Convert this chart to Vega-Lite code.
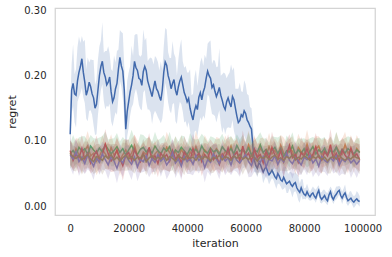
{
"$schema": "https://vega.github.io/schema/vega-lite/v6.json",
"width": 320, "height": 207,
"autosize": "none",
"padding": {"left": 55, "top": 8, "right": 17, "bottom": 42},
"background": "white",
"config": {
  "font": "DejaVu Sans",
  "view": {"stroke": "#d4d4d4", "strokeWidth": 1.25},
  "axis": {"grid": false, "domain": false, "ticks": false, "labelFontSize": 10, "labelColor": "#262626", "titleFontSize": 11, "titleColor": "#262626", "titleFontWeight": "normal", "labelFont": "DejaVu Sans", "titleFont": "DejaVu Sans"},
  "axisX": {"labelPadding": 8, "titlePadding": 4},
  "axisY": {"labelPadding": 9, "titlePadding": 6}
},
"datasets": {
"blue": [
{"i":0,"m":0.110,"l":0.070,"h":0.155},{"i":500,"m":0.178,"l":0.142,"h":0.218},
{"i":1000,"m":0.188,"l":0.153,"h":0.248},{"i":1500,"m":0.172,"l":0.128,"h":0.202},
{"i":2000,"m":0.170,"l":0.120,"h":0.210},{"i":2500,"m":0.192,"l":0.160,"h":0.244},
{"i":3000,"m":0.205,"l":0.167,"h":0.260},{"i":3500,"m":0.214,"l":0.173,"h":0.250},
{"i":4000,"m":0.226,"l":0.181,"h":0.261},{"i":4500,"m":0.205,"l":0.167,"h":0.252},
{"i":5000,"m":0.190,"l":0.158,"h":0.255},{"i":5500,"m":0.170,"l":0.134,"h":0.210},
{"i":6000,"m":0.178,"l":0.130,"h":0.228},{"i":6500,"m":0.190,"l":0.146,"h":0.220},
{"i":7000,"m":0.183,"l":0.147,"h":0.225},{"i":7500,"m":0.172,"l":0.140,"h":0.224},
{"i":8000,"m":0.166,"l":0.124,"h":0.224},{"i":8500,"m":0.150,"l":0.109,"h":0.186},
{"i":9000,"m":0.156,"l":0.110,"h":0.194},{"i":9500,"m":0.178,"l":0.140,"h":0.225},
{"i":10000,"m":0.200,"l":0.160,"h":0.245},{"i":10500,"m":0.214,"l":0.178,"h":0.254},
{"i":11000,"m":0.222,"l":0.187,"h":0.282},{"i":11500,"m":0.205,"l":0.161,"h":0.235},
{"i":12000,"m":0.198,"l":0.148,"h":0.238},{"i":12500,"m":0.186,"l":0.154,"h":0.238},
{"i":13000,"m":0.190,"l":0.152,"h":0.245},{"i":13500,"m":0.198,"l":0.157,"h":0.234},
{"i":14000,"m":0.175,"l":0.130,"h":0.210},{"i":14500,"m":0.160,"l":0.122,"h":0.207},
{"i":15000,"m":0.166,"l":0.134,"h":0.231},{"i":15500,"m":0.180,"l":0.144,"h":0.220},
{"i":16000,"m":0.188,"l":0.140,"h":0.238},{"i":16500,"m":0.210,"l":0.166,"h":0.240},
{"i":17000,"m":0.228,"l":0.192,"h":0.270},{"i":17500,"m":0.215,"l":0.183,"h":0.267},
{"i":18000,"m":0.207,"l":0.165,"h":0.265},{"i":18500,"m":0.178,"l":0.137,"h":0.214},
{"i":19000,"m":0.118,"l":0.072,"h":0.156},{"i":19500,"m":0.145,"l":0.107,"h":0.192},
{"i":20000,"m":0.160,"l":0.120,"h":0.205},{"i":20500,"m":0.175,"l":0.139,"h":0.215},
{"i":21000,"m":0.186,"l":0.151,"h":0.246},{"i":21500,"m":0.200,"l":0.156,"h":0.230},
{"i":22000,"m":0.222,"l":0.172,"h":0.262},{"i":22500,"m":0.212,"l":0.180,"h":0.264},
{"i":23000,"m":0.208,"l":0.170,"h":0.263},{"i":23500,"m":0.196,"l":0.155,"h":0.232},
{"i":24000,"m":0.194,"l":0.149,"h":0.229},{"i":24500,"m":0.185,"l":0.147,"h":0.232},
{"i":25000,"m":0.206,"l":0.174,"h":0.271},{"i":25500,"m":0.214,"l":0.178,"h":0.254},
{"i":26000,"m":0.208,"l":0.160,"h":0.258},{"i":26500,"m":0.192,"l":0.148,"h":0.222},
{"i":27000,"m":0.184,"l":0.148,"h":0.226},{"i":27500,"m":0.176,"l":0.144,"h":0.228},
{"i":28000,"m":0.168,"l":0.126,"h":0.226},{"i":28500,"m":0.181,"l":0.140,"h":0.217},
{"i":29000,"m":0.192,"l":0.146,"h":0.230},{"i":29500,"m":0.180,"l":0.142,"h":0.227},
{"i":30000,"m":0.176,"l":0.136,"h":0.221},{"i":30500,"m":0.168,"l":0.132,"h":0.208},
{"i":31000,"m":0.162,"l":0.127,"h":0.222},{"i":31500,"m":0.178,"l":0.134,"h":0.208},
{"i":32000,"m":0.205,"l":0.155,"h":0.245},{"i":32500,"m":0.221,"l":0.189,"h":0.273},
{"i":33000,"m":0.216,"l":0.178,"h":0.271},{"i":33500,"m":0.200,"l":0.159,"h":0.236},
{"i":34000,"m":0.192,"l":0.147,"h":0.227},{"i":34500,"m":0.180,"l":0.142,"h":0.227},
{"i":35000,"m":0.188,"l":0.156,"h":0.253},{"i":35500,"m":0.194,"l":0.158,"h":0.234},
{"i":36000,"m":0.178,"l":0.130,"h":0.228},{"i":36500,"m":0.170,"l":0.126,"h":0.200},
{"i":37000,"m":0.183,"l":0.147,"h":0.225},{"i":37500,"m":0.192,"l":0.160,"h":0.244},
{"i":38000,"m":0.198,"l":0.156,"h":0.256},{"i":38500,"m":0.186,"l":0.145,"h":0.222},
{"i":39000,"m":0.174,"l":0.128,"h":0.212},{"i":39500,"m":0.168,"l":0.130,"h":0.215},
{"i":40000,"m":0.160,"l":0.120,"h":0.205},{"i":40500,"m":0.165,"l":0.129,"h":0.205},
{"i":41000,"m":0.150,"l":0.115,"h":0.210},{"i":41500,"m":0.140,"l":0.096,"h":0.170},
{"i":42000,"m":0.132,"l":0.082,"h":0.172},{"i":42500,"m":0.146,"l":0.114,"h":0.198},
{"i":43000,"m":0.154,"l":0.116,"h":0.209},{"i":43500,"m":0.148,"l":0.107,"h":0.184},
{"i":44000,"m":0.167,"l":0.122,"h":0.202},{"i":44500,"m":0.174,"l":0.136,"h":0.221},
{"i":45000,"m":0.163,"l":0.131,"h":0.228},{"i":45500,"m":0.175,"l":0.139,"h":0.215},
{"i":46000,"m":0.182,"l":0.134,"h":0.232},{"i":46500,"m":0.196,"l":0.152,"h":0.226},
{"i":47000,"m":0.207,"l":0.171,"h":0.249},{"i":47500,"m":0.200,"l":0.168,"h":0.252},
{"i":48000,"m":0.196,"l":0.154,"h":0.254},{"i":48500,"m":0.182,"l":0.141,"h":0.218},
{"i":49000,"m":0.186,"l":0.140,"h":0.224},{"i":49500,"m":0.176,"l":0.138,"h":0.223},
{"i":50000,"m":0.168,"l":0.128,"h":0.213},{"i":50500,"m":0.174,"l":0.138,"h":0.214},
{"i":51000,"m":0.182,"l":0.147,"h":0.242},{"i":51500,"m":0.170,"l":0.126,"h":0.200},
{"i":52000,"m":0.162,"l":0.112,"h":0.202},{"i":52500,"m":0.153,"l":0.121,"h":0.205},
{"i":53000,"m":0.148,"l":0.110,"h":0.203},{"i":53500,"m":0.160,"l":0.119,"h":0.196},
{"i":54000,"m":0.166,"l":0.121,"h":0.201},{"i":54500,"m":0.158,"l":0.120,"h":0.205},
{"i":55000,"m":0.152,"l":0.120,"h":0.217},{"i":55500,"m":0.168,"l":0.132,"h":0.208},
{"i":56000,"m":0.163,"l":0.115,"h":0.213},{"i":56500,"m":0.150,"l":0.106,"h":0.180},
{"i":57000,"m":0.138,"l":0.102,"h":0.180},{"i":57500,"m":0.128,"l":0.096,"h":0.180},
{"i":58000,"m":0.131,"l":0.089,"h":0.189},{"i":58500,"m":0.140,"l":0.099,"h":0.176},
{"i":59000,"m":0.137,"l":0.091,"h":0.175},{"i":59500,"m":0.146,"l":0.108,"h":0.193},
{"i":60000,"m":0.142,"l":0.102,"h":0.187},{"i":60500,"m":0.132,"l":0.096,"h":0.172},
{"i":61000,"m":0.128,"l":0.098,"h":0.170},{"i":61500,"m":0.122,"l":0.078,"h":0.152},
{"i":62000,"m":0.118,"l":0.085,"h":0.150},{"i":62500,"m":0.090,"l":0.062,"h":0.125},
{"i":63000,"m":0.070,"l":0.052,"h":0.088},{"i":63500,"m":0.062,"l":0.050,"h":0.081},
{"i":64000,"m":0.058,"l":0.044,"h":0.083},{"i":64500,"m":0.066,"l":0.053,"h":0.082},
{"i":65000,"m":0.064,"l":0.053,"h":0.078},{"i":65500,"m":0.058,"l":0.048,"h":0.079},
{"i":66000,"m":0.052,"l":0.035,"h":0.072},{"i":66500,"m":0.057,"l":0.041,"h":0.070},
{"i":67000,"m":0.060,"l":0.047,"h":0.076},{"i":67500,"m":0.053,"l":0.041,"h":0.072},
{"i":68000,"m":0.048,"l":0.033,"h":0.071},{"i":68500,"m":0.051,"l":0.038,"h":0.067},
{"i":69000,"m":0.055,"l":0.043,"h":0.068},{"i":69500,"m":0.050,"l":0.040,"h":0.071},
{"i":70000,"m":0.045,"l":0.033,"h":0.060},{"i":70500,"m":0.042,"l":0.026,"h":0.055},
{"i":71000,"m":0.050,"l":0.034,"h":0.072},{"i":71500,"m":0.046,"l":0.034,"h":0.065},
{"i":72000,"m":0.040,"l":0.030,"h":0.052},{"i":72500,"m":0.038,"l":0.025,"h":0.054},
{"i":73000,"m":0.044,"l":0.026,"h":0.062},{"i":73500,"m":0.039,"l":0.029,"h":0.060},
{"i":74000,"m":0.034,"l":0.020,"h":0.059},{"i":74500,"m":0.036,"l":0.020,"h":0.049},
{"i":75000,"m":0.038,"l":0.027,"h":0.052},{"i":75500,"m":0.033,"l":0.021,"h":0.052},
{"i":76000,"m":0.030,"l":0.013,"h":0.050},{"i":76500,"m":0.034,"l":0.021,"h":0.050},
{"i":77000,"m":0.036,"l":0.023,"h":0.052},{"i":77500,"m":0.028,"l":0.018,"h":0.049},
{"i":78000,"m":0.024,"l":0.009,"h":0.047},{"i":78500,"m":0.021,"l":0.005,"h":0.034},
{"i":79000,"m":0.028,"l":0.016,"h":0.041},{"i":79500,"m":0.022,"l":0.010,"h":0.041},
{"i":80000,"m":0.018,"l":0.011,"h":0.027},{"i":80500,"m":0.016,"l":0.010,"h":0.028},
{"i":81000,"m":0.022,"l":0.014,"h":0.034},{"i":81500,"m":0.017,"l":0.010,"h":0.027},
{"i":82000,"m":0.014,"l":0.008,"h":0.021},{"i":82500,"m":0.018,"l":0.009,"h":0.026},
{"i":83000,"m":0.020,"l":0.011,"h":0.030},{"i":83500,"m":0.015,"l":0.009,"h":0.027},
{"i":84000,"m":0.012,"l":0.005,"h":0.025},{"i":84500,"m":0.019,"l":0.012,"h":0.029},
{"i":85000,"m":0.024,"l":0.016,"h":0.032},{"i":85500,"m":0.014,"l":0.005,"h":0.022},
{"i":86000,"m":0.010,"l":0.004,"h":0.021},{"i":86500,"m":0.013,"l":0.007,"h":0.025},
{"i":87000,"m":0.016,"l":0.007,"h":0.025},{"i":87500,"m":0.011,"l":0.004,"h":0.021},
{"i":88000,"m":0.008,"l":0.001,"h":0.020},{"i":88500,"m":0.017,"l":0.008,"h":0.025},
{"i":89000,"m":0.022,"l":0.014,"h":0.030},{"i":89500,"m":0.014,"l":0.008,"h":0.026},
{"i":90000,"m":0.010,"l":0.003,"h":0.019},{"i":90500,"m":0.015,"l":0.008,"h":0.025},
{"i":91000,"m":0.018,"l":0.010,"h":0.030},{"i":91500,"m":0.022,"l":0.013,"h":0.030},
{"i":92000,"m":0.024,"l":0.018,"h":0.031},{"i":92500,"m":0.016,"l":0.010,"h":0.028},
{"i":93000,"m":0.012,"l":0.003,"h":0.022},{"i":93500,"m":0.017,"l":0.010,"h":0.027},
{"i":94000,"m":0.020,"l":0.013,"h":0.033},{"i":94500,"m":0.013,"l":0.004,"h":0.021},
{"i":95000,"m":0.008,"l":0.000,"h":0.016},{"i":95500,"m":0.010,"l":0.004,"h":0.022},
{"i":96000,"m":0.012,"l":0.006,"h":0.023},{"i":96500,"m":0.008,"l":0.001,"h":0.018},
{"i":97000,"m":0.006,"l":-0.003,"h":0.015},{"i":97500,"m":0.009,"l":0.000,"h":0.017},
{"i":98000,"m":0.011,"l":0.004,"h":0.023},{"i":98500,"m":0.008,"l":0.002,"h":0.020},
{"i":99000,"m":0.007,"l":-0.001,"h":0.015}
],
"main": [
{"i":0,"om":0.082,"ol":0.062,"oh":0.100,"gm":0.080,"gl":0.057,"gh":0.096,"rm":0.085,"rl":0.064,"rh":0.105,"pm":0.078,"pl":0.059,"ph":0.101,"nm":0.080,"nl":0.063,"nh":0.101},
{"i":1000,"om":0.074,"ol":0.058,"oh":0.096,"gm":0.085,"gl":0.067,"gh":0.109,"rm":0.070,"rl":0.055,"rh":0.085,"pm":0.072,"pl":0.048,"ph":0.091,"nm":0.076,"nl":0.054,"nh":0.093},
{"i":2000,"om":0.088,"ol":0.065,"oh":0.104,"gm":0.078,"gl":0.057,"gh":0.098,"rm":0.079,"rl":0.060,"rh":0.102,"pm":0.083,"pl":0.066,"ph":0.104,"nm":0.073,"nl":0.053,"nh":0.091},
{"i":3000,"om":0.079,"ol":0.061,"oh":0.103,"gm":0.090,"gl":0.075,"gh":0.105,"rm":0.074,"rl":0.050,"rh":0.093,"pm":0.068,"pl":0.046,"ph":0.085,"nm":0.078,"nl":0.062,"nh":0.100},
{"i":4000,"om":0.071,"ol":0.050,"oh":0.091,"gm":0.084,"gl":0.065,"gh":0.107,"rm":0.088,"rl":0.071,"rh":0.109,"pm":0.075,"pl":0.055,"ph":0.093,"nm":0.071,"nl":0.048,"nh":0.087},
{"i":5000,"om":0.085,"ol":0.070,"oh":0.100,"gm":0.088,"gl":0.064,"gh":0.107,"rm":0.072,"rl":0.050,"rh":0.089,"pm":0.065,"pl":0.049,"ph":0.087,"nm":0.075,"nl":0.057,"nh":0.099},
{"i":6000,"om":0.092,"ol":0.073,"oh":0.115,"gm":0.079,"gl":0.062,"gh":0.100,"rm":0.081,"rl":0.061,"rh":0.099,"pm":0.079,"pl":0.056,"ph":0.095,"nm":0.079,"nl":0.058,"nh":0.099},
{"i":7000,"om":0.077,"ol":0.053,"oh":0.096,"gm":0.092,"gl":0.070,"gh":0.109,"rm":0.066,"rl":0.050,"rh":0.088,"pm":0.070,"pl":0.052,"ph":0.094,"nm":0.072,"nl":0.057,"nh":0.087},
{"i":8000,"om":0.081,"ol":0.064,"oh":0.102,"gm":0.086,"gl":0.066,"gh":0.104,"rm":0.077,"rl":0.054,"rh":0.093,"pm":0.061,"pl":0.040,"ph":0.081,"nm":0.068,"nl":0.049,"nh":0.091},
{"i":9000,"om":0.069,"ol":0.047,"oh":0.086,"gm":0.081,"gl":0.065,"gh":0.103,"rm":0.084,"rl":0.066,"rh":0.108,"pm":0.074,"pl":0.059,"ph":0.089,"nm":0.076,"nl":0.052,"nh":0.095},
{"i":10000,"om":0.076,"ol":0.056,"oh":0.094,"gm":0.089,"gl":0.066,"gh":0.105,"rm":0.071,"rl":0.050,"rh":0.091,"pm":0.067,"pl":0.048,"ph":0.090,"nm":0.074,"nl":0.057,"nh":0.095},
{"i":11000,"om":0.087,"ol":0.071,"oh":0.109,"gm":0.083,"gl":0.065,"gh":0.107,"rm":0.079,"rl":0.064,"rh":0.094,"pm":0.080,"pl":0.056,"ph":0.099,"nm":0.070,"nl":0.048,"nh":0.087},
{"i":12000,"om":0.080,"ol":0.057,"oh":0.096,"gm":0.094,"gl":0.073,"gh":0.114,"rm":0.095,"rl":0.076,"rh":0.118,"pm":0.071,"pl":0.054,"ph":0.092,"nm":0.077,"nl":0.057,"nh":0.095},
{"i":13000,"om":0.073,"ol":0.055,"oh":0.097,"gm":0.087,"gl":0.072,"gh":0.102,"rm":0.080,"rl":0.056,"rh":0.099,"pm":0.063,"pl":0.041,"ph":0.080,"nm":0.073,"nl":0.057,"nh":0.095},
{"i":14000,"om":0.090,"ol":0.069,"oh":0.110,"gm":0.080,"gl":0.061,"gh":0.103,"rm":0.069,"rl":0.052,"rh":0.090,"pm":0.076,"pl":0.056,"ph":0.094,"nm":0.079,"nl":0.056,"nh":0.095},
{"i":15000,"om":0.078,"ol":0.063,"oh":0.093,"gm":0.085,"gl":0.061,"gh":0.104,"rm":0.075,"rl":0.053,"rh":0.092,"pm":0.069,"pl":0.053,"ph":0.091,"nm":0.071,"nl":0.053,"nh":0.095},
{"i":16000,"om":0.084,"ol":0.065,"oh":0.107,"gm":0.091,"gl":0.074,"gh":0.112,"rm":0.086,"rl":0.066,"rh":0.104,"pm":0.058,"pl":0.035,"ph":0.074,"nm":0.075,"nl":0.054,"nh":0.095},
{"i":17000,"om":0.070,"ol":0.046,"oh":0.089,"gm":0.082,"gl":0.060,"gh":0.099,"rm":0.073,"rl":0.057,"rh":0.095,"pm":0.072,"pl":0.054,"ph":0.096,"nm":0.069,"nl":0.054,"nh":0.084},
{"i":18000,"om":0.079,"ol":0.062,"oh":0.100,"gm":0.088,"gl":0.068,"gh":0.106,"rm":0.062,"rl":0.039,"rh":0.078,"pm":0.066,"pl":0.045,"ph":0.086,"nm":0.074,"nl":0.055,"nh":0.097},
{"i":19000,"om":0.086,"ol":0.064,"oh":0.103,"gm":0.078,"gl":0.062,"gh":0.100,"rm":0.078,"rl":0.060,"rh":0.102,"pm":0.078,"pl":0.063,"ph":0.093,"nm":0.078,"nl":0.054,"nh":0.097},
{"i":20000,"om":0.075,"ol":0.055,"oh":0.093,"gm":0.086,"gl":0.063,"gh":0.102,"rm":0.082,"rl":0.061,"rh":0.102,"pm":0.070,"pl":0.051,"ph":0.093,"nm":0.072,"nl":0.055,"nh":0.093},
{"i":21000,"om":0.081,"ol":0.065,"oh":0.103,"gm":0.093,"gl":0.075,"gh":0.117,"rm":0.070,"rl":0.055,"rh":0.085,"pm":0.064,"pl":0.040,"ph":0.083,"nm":0.076,"nl":0.054,"nh":0.093},
{"i":22000,"om":0.093,"ol":0.070,"oh":0.109,"gm":0.084,"gl":0.063,"gh":0.104,"rm":0.087,"rl":0.068,"rh":0.110,"pm":0.075,"pl":0.058,"ph":0.096,"nm":0.070,"nl":0.050,"nh":0.088},
{"i":23000,"om":0.077,"ol":0.059,"oh":0.101,"gm":0.079,"gl":0.064,"gh":0.094,"rm":0.076,"rl":0.052,"rh":0.095,"pm":0.060,"pl":0.038,"ph":0.077,"nm":0.075,"nl":0.059,"nh":0.097},
{"i":24000,"om":0.072,"ol":0.051,"oh":0.092,"gm":0.087,"gl":0.068,"gh":0.110,"rm":0.068,"rl":0.051,"rh":0.089,"pm":0.071,"pl":0.051,"ph":0.089,"nm":0.073,"nl":0.050,"nh":0.089},
{"i":25000,"om":0.083,"ol":0.068,"oh":0.098,"gm":0.090,"gl":0.066,"gh":0.109,"rm":0.080,"rl":0.058,"rh":0.097,"pm":0.068,"pl":0.052,"ph":0.090,"nm":0.079,"nl":0.061,"nh":0.103},
{"i":26000,"om":0.079,"ol":0.060,"oh":0.102,"gm":0.083,"gl":0.066,"gh":0.104,"rm":0.073,"rl":0.053,"rh":0.091,"pm":0.077,"pl":0.054,"ph":0.093,"nm":0.068,"nl":0.047,"nh":0.088},
{"i":27000,"om":0.088,"ol":0.064,"oh":0.107,"gm":0.088,"gl":0.066,"gh":0.105,"rm":0.090,"rl":0.074,"rh":0.112,"pm":0.062,"pl":0.044,"ph":0.086,"nm":0.074,"nl":0.059,"nh":0.089},
{"i":28000,"om":0.074,"ol":0.057,"oh":0.095,"gm":0.081,"gl":0.061,"gh":0.099,"rm":0.071,"rl":0.048,"rh":0.087,"pm":0.073,"pl":0.052,"ph":0.093,"nm":0.077,"nl":0.058,"nh":0.100},
{"i":29000,"om":0.080,"ol":0.058,"oh":0.097,"gm":0.092,"gl":0.076,"gh":0.114,"rm":0.077,"rl":0.059,"rh":0.101,"pm":0.067,"pl":0.052,"ph":0.082,"nm":0.071,"nl":0.047,"nh":0.090},
{"i":30000,"om":0.085,"ol":0.065,"oh":0.103,"gm":0.085,"gl":0.062,"gh":0.101,"rm":0.065,"rl":0.044,"rh":0.085,"pm":0.079,"pl":0.060,"ph":0.102,"nm":0.075,"nl":0.058,"nh":0.096},
{"i":31000,"om":0.071,"ol":0.055,"oh":0.093,"gm":0.080,"gl":0.062,"gh":0.104,"rm":0.081,"rl":0.066,"rh":0.096,"pm":0.069,"pl":0.045,"ph":0.088,"nm":0.072,"nl":0.050,"nh":0.089},
{"i":32000,"om":0.078,"ol":0.055,"oh":0.094,"gm":0.089,"gl":0.068,"gh":0.109,"rm":0.074,"rl":0.055,"rh":0.097,"pm":0.074,"pl":0.057,"ph":0.095,"nm":0.078,"nl":0.058,"nh":0.096},
{"i":33000,"om":0.090,"ol":0.072,"oh":0.114,"gm":0.084,"gl":0.069,"gh":0.099,"rm":0.079,"rl":0.055,"rh":0.098,"pm":0.063,"pl":0.041,"ph":0.080,"nm":0.070,"nl":0.054,"nh":0.092},
{"i":34000,"om":0.082,"ol":0.061,"oh":0.102,"gm":0.091,"gl":0.072,"gh":0.114,"rm":0.069,"rl":0.052,"rh":0.090,"pm":0.070,"pl":0.050,"ph":0.088,"nm":0.076,"nl":0.053,"nh":0.092},
{"i":35000,"om":0.076,"ol":0.061,"oh":0.091,"gm":0.078,"gl":0.054,"gh":0.097,"rm":0.085,"rl":0.063,"rh":0.102,"pm":0.082,"pl":0.066,"ph":0.104,"nm":0.073,"nl":0.055,"nh":0.097},
{"i":36000,"om":0.084,"ol":0.065,"oh":0.107,"gm":0.086,"gl":0.069,"gh":0.107,"rm":0.072,"rl":0.052,"rh":0.090,"pm":0.066,"pl":0.043,"ph":0.082,"nm":0.069,"nl":0.048,"nh":0.089},
{"i":37000,"om":0.073,"ol":0.049,"oh":0.092,"gm":0.082,"gl":0.060,"gh":0.099,"rm":0.078,"rl":0.062,"rh":0.100,"pm":0.072,"pl":0.054,"ph":0.096,"nm":0.077,"nl":0.062,"nh":0.092},
{"i":38000,"om":0.087,"ol":0.070,"oh":0.108,"gm":0.090,"gl":0.070,"gh":0.108,"rm":0.066,"rl":0.043,"rh":0.082,"pm":0.061,"pl":0.040,"ph":0.081,"nm":0.074,"nl":0.055,"nh":0.097},
{"i":39000,"om":0.079,"ol":0.057,"oh":0.096,"gm":0.085,"gl":0.069,"gh":0.107,"rm":0.083,"rl":0.065,"rh":0.107,"pm":0.076,"pl":0.061,"ph":0.091,"nm":0.071,"nl":0.047,"nh":0.090},
{"i":40000,"om":0.070,"ol":0.050,"oh":0.088,"gm":0.079,"gl":0.056,"gh":0.095,"rm":0.076,"rl":0.055,"rh":0.096,"pm":0.068,"pl":0.049,"ph":0.091,"nm":0.078,"nl":0.061,"nh":0.099},
{"i":41000,"om":0.083,"ol":0.067,"oh":0.105,"gm":0.088,"gl":0.070,"gh":0.112,"rm":0.070,"rl":0.055,"rh":0.085,"pm":0.073,"pl":0.049,"ph":0.092,"nm":0.073,"nl":0.051,"nh":0.090},
{"i":42000,"om":0.077,"ol":0.054,"oh":0.093,"gm":0.083,"gl":0.062,"gh":0.103,"rm":0.088,"rl":0.069,"rh":0.111,"pm":0.064,"pl":0.047,"ph":0.085,"nm":0.075,"nl":0.055,"nh":0.093},
{"i":43000,"om":0.091,"ol":0.073,"oh":0.115,"gm":0.087,"gl":0.072,"gh":0.102,"rm":0.075,"rl":0.051,"rh":0.094,"pm":0.078,"pl":0.056,"ph":0.095,"nm":0.070,"nl":0.054,"nh":0.092},
{"i":44000,"om":0.080,"ol":0.059,"oh":0.100,"gm":0.080,"gl":0.061,"gh":0.103,"rm":0.081,"rl":0.064,"rh":0.102,"pm":0.070,"pl":0.050,"ph":0.088,"nm":0.077,"nl":0.054,"nh":0.093},
{"i":45000,"om":0.074,"ol":0.059,"oh":0.089,"gm":0.092,"gl":0.068,"gh":0.111,"rm":0.068,"rl":0.046,"rh":0.085,"pm":0.075,"pl":0.059,"ph":0.097,"nm":0.072,"nl":0.054,"nh":0.096},
{"i":46000,"om":0.086,"ol":0.067,"oh":0.109,"gm":0.084,"gl":0.067,"gh":0.105,"rm":0.079,"rl":0.059,"rh":0.097,"pm":0.059,"pl":0.036,"ph":0.075,"nm":0.076,"nl":0.055,"nh":0.096},
{"i":47000,"om":0.081,"ol":0.057,"oh":0.100,"gm":0.081,"gl":0.059,"gh":0.098,"rm":0.073,"rl":0.057,"rh":0.095,"pm":0.071,"pl":0.053,"ph":0.095,"nm":0.074,"nl":0.059,"nh":0.089},
{"i":48000,"om":0.069,"ol":0.052,"oh":0.090,"gm":0.089,"gl":0.069,"gh":0.107,"rm":0.086,"rl":0.063,"rh":0.102,"pm":0.067,"pl":0.046,"ph":0.087,"nm":0.069,"nl":0.050,"nh":0.092},
{"i":49000,"om":0.078,"ol":0.056,"oh":0.095,"gm":0.083,"gl":0.067,"gh":0.105,"rm":0.071,"rl":0.053,"rh":0.095,"pm":0.080,"pl":0.065,"ph":0.095,"nm":0.075,"nl":0.051,"nh":0.094},
{"i":50000,"om":0.088,"ol":0.068,"oh":0.106,"gm":0.086,"gl":0.063,"gh":0.102,"rm":0.077,"rl":0.056,"rh":0.097,"pm":0.072,"pl":0.053,"ph":0.095,"nm":0.073,"nl":0.056,"nh":0.094},
{"i":51000,"om":0.082,"ol":0.066,"oh":0.104,"gm":0.079,"gl":0.061,"gh":0.103,"rm":0.064,"rl":0.049,"rh":0.079,"pm":0.065,"pl":0.041,"ph":0.084,"nm":0.078,"nl":0.056,"nh":0.095},
{"i":52000,"om":0.075,"ol":0.052,"oh":0.091,"gm":0.091,"gl":0.070,"gh":0.111,"rm":0.080,"rl":0.061,"rh":0.103,"pm":0.077,"pl":0.060,"ph":0.098,"nm":0.071,"nl":0.051,"nh":0.089},
{"i":53000,"om":0.084,"ol":0.066,"oh":0.108,"gm":0.085,"gl":0.070,"gh":0.100,"rm":0.074,"rl":0.050,"rh":0.093,"pm":0.069,"pl":0.047,"ph":0.086,"nm":0.076,"nl":0.060,"nh":0.098},
{"i":54000,"om":0.079,"ol":0.058,"oh":0.099,"gm":0.082,"gl":0.063,"gh":0.105,"rm":0.089,"rl":0.072,"rh":0.110,"pm":0.074,"pl":0.054,"ph":0.092,"nm":0.074,"nl":0.051,"nh":0.090},
{"i":55000,"om":0.092,"ol":0.077,"oh":0.107,"gm":0.088,"gl":0.064,"gh":0.107,"rm":0.072,"rl":0.050,"rh":0.089,"pm":0.063,"pl":0.047,"ph":0.085,"nm":0.070,"nl":0.052,"nh":0.094},
{"i":56000,"om":0.076,"ol":0.057,"oh":0.099,"gm":0.080,"gl":0.063,"gh":0.101,"rm":0.078,"rl":0.058,"rh":0.096,"pm":0.078,"pl":0.055,"ph":0.094,"nm":0.077,"nl":0.056,"nh":0.097},
{"i":57000,"om":0.083,"ol":0.059,"oh":0.102,"gm":0.093,"gl":0.071,"gh":0.110,"rm":0.083,"rl":0.067,"rh":0.105,"pm":0.070,"pl":0.052,"ph":0.094,"nm":0.073,"nl":0.058,"nh":0.088},
{"i":58000,"om":0.071,"ol":0.054,"oh":0.092,"gm":0.084,"gl":0.064,"gh":0.102,"rm":0.070,"rl":0.047,"rh":0.086,"pm":0.066,"pl":0.045,"ph":0.086,"nm":0.079,"nl":0.060,"nh":0.102},
{"i":59000,"om":0.087,"ol":0.065,"oh":0.104,"gm":0.087,"gl":0.071,"gh":0.109,"rm":0.092,"rl":0.074,"rh":0.116,"pm":0.073,"pl":0.058,"ph":0.088,"nm":0.072,"nl":0.048,"nh":0.091},
{"i":60000,"om":0.080,"ol":0.060,"oh":0.098,"gm":0.081,"gl":0.058,"gh":0.097,"rm":0.076,"rl":0.055,"rh":0.096,"pm":0.079,"pl":0.060,"ph":0.102,"nm":0.075,"nl":0.058,"nh":0.096},
{"i":61000,"om":0.094,"ol":0.078,"oh":0.116,"gm":0.089,"gl":0.071,"gh":0.113,"rm":0.081,"rl":0.066,"rh":0.096,"pm":0.068,"pl":0.044,"ph":0.087,"nm":0.071,"nl":0.049,"nh":0.088},
{"i":62000,"om":0.078,"ol":0.055,"oh":0.094,"gm":0.078,"gl":0.057,"gh":0.098,"rm":0.069,"rl":0.050,"rh":0.092,"pm":0.062,"pl":0.045,"ph":0.083,"nm":0.078,"nl":0.058,"nh":0.096},
{"i":63000,"om":0.085,"ol":0.067,"oh":0.109,"gm":0.086,"gl":0.071,"gh":0.101,"rm":0.087,"rl":0.063,"rh":0.106,"pm":0.075,"pl":0.053,"ph":0.092,"nm":0.074,"nl":0.058,"nh":0.096},
{"i":64000,"om":0.073,"ol":0.052,"oh":0.093,"gm":0.083,"gl":0.064,"gh":0.106,"rm":0.075,"rl":0.058,"rh":0.096,"pm":0.071,"pl":0.051,"ph":0.089,"nm":0.069,"nl":0.046,"nh":0.085},
{"i":65000,"om":0.089,"ol":0.074,"oh":0.104,"gm":0.094,"gl":0.070,"gh":0.113,"rm":0.079,"rl":0.057,"rh":0.096,"pm":0.067,"pl":0.051,"ph":0.089,"nm":0.076,"nl":0.058,"nh":0.100},
{"i":66000,"om":0.082,"ol":0.063,"oh":0.105,"gm":0.082,"gl":0.065,"gh":0.103,"rm":0.066,"rl":0.046,"rh":0.084,"pm":0.076,"pl":0.053,"ph":0.092,"nm":0.073,"nl":0.052,"nh":0.093},
{"i":67000,"om":0.076,"ol":0.052,"oh":0.095,"gm":0.087,"gl":0.065,"gh":0.104,"rm":0.084,"rl":0.068,"rh":0.106,"pm":0.060,"pl":0.042,"ph":0.084,"nm":0.077,"nl":0.062,"nh":0.092},
{"i":68000,"om":0.091,"ol":0.074,"oh":0.112,"gm":0.079,"gl":0.059,"gh":0.097,"rm":0.073,"rl":0.050,"rh":0.089,"pm":0.072,"pl":0.051,"ph":0.092,"nm":0.071,"nl":0.052,"nh":0.094},
{"i":69000,"om":0.080,"ol":0.058,"oh":0.097,"gm":0.085,"gl":0.069,"gh":0.107,"rm":0.090,"rl":0.072,"rh":0.114,"pm":0.069,"pl":0.054,"ph":0.084,"nm":0.075,"nl":0.051,"nh":0.094},
{"i":70000,"om":0.086,"ol":0.066,"oh":0.104,"gm":0.090,"gl":0.067,"gh":0.106,"rm":0.078,"rl":0.057,"rh":0.098,"pm":0.077,"pl":0.058,"ph":0.100,"nm":0.078,"nl":0.061,"nh":0.099},
{"i":71000,"om":0.075,"ol":0.059,"oh":0.097,"gm":0.081,"gl":0.063,"gh":0.105,"rm":0.071,"rl":0.056,"rh":0.086,"pm":0.064,"pl":0.040,"ph":0.083,"nm":0.072,"nl":0.050,"nh":0.089},
{"i":72000,"om":0.093,"ol":0.070,"oh":0.109,"gm":0.088,"gl":0.067,"gh":0.108,"rm":0.085,"rl":0.066,"rh":0.108,"pm":0.073,"pl":0.056,"ph":0.094,"nm":0.074,"nl":0.054,"nh":0.092},
{"i":73000,"om":0.081,"ol":0.063,"oh":0.105,"gm":0.076,"gl":0.061,"gh":0.091,"rm":0.068,"rl":0.044,"rh":0.087,"pm":0.068,"pl":0.046,"ph":0.085,"nm":0.070,"nl":0.054,"nh":0.092},
{"i":74000,"om":0.077,"ol":0.056,"oh":0.097,"gm":0.085,"gl":0.066,"gh":0.108,"rm":0.080,"rl":0.063,"rh":0.101,"pm":0.081,"pl":0.061,"ph":0.099,"nm":0.076,"nl":0.053,"nh":0.092},
{"i":75000,"om":0.088,"ol":0.073,"oh":0.103,"gm":0.083,"gl":0.059,"gh":0.102,"rm":0.093,"rl":0.071,"rh":0.110,"pm":0.070,"pl":0.054,"ph":0.092,"nm":0.073,"nl":0.055,"nh":0.097},
{"i":76000,"om":0.084,"ol":0.065,"oh":0.107,"gm":0.092,"gl":0.075,"gh":0.113,"rm":0.074,"rl":0.054,"rh":0.092,"pm":0.065,"pl":0.042,"ph":0.081,"nm":0.079,"nl":0.058,"nh":0.099},
{"i":77000,"om":0.072,"ol":0.048,"oh":0.091,"gm":0.079,"gl":0.057,"gh":0.096,"rm":0.079,"rl":0.063,"rh":0.101,"pm":0.074,"pl":0.056,"ph":0.098,"nm":0.071,"nl":0.056,"nh":0.086},
{"i":78000,"om":0.090,"ol":0.073,"oh":0.111,"gm":0.086,"gl":0.066,"gh":0.104,"rm":0.067,"rl":0.044,"rh":0.083,"pm":0.069,"pl":0.048,"ph":0.089,"nm":0.075,"nl":0.056,"nh":0.098},
{"i":79000,"om":0.083,"ol":0.061,"oh":0.100,"gm":0.081,"gl":0.065,"gh":0.103,"rm":0.082,"rl":0.064,"rh":0.106,"pm":0.063,"pl":0.048,"ph":0.078,"nm":0.072,"nl":0.048,"nh":0.091},
{"i":80000,"om":0.079,"ol":0.059,"oh":0.097,"gm":0.088,"gl":0.065,"gh":0.104,"rm":0.076,"rl":0.055,"rh":0.096,"pm":0.075,"pl":0.056,"ph":0.098,"nm":0.077,"nl":0.060,"nh":0.098},
{"i":81000,"om":0.095,"ol":0.079,"oh":0.117,"gm":0.077,"gl":0.059,"gh":0.101,"rm":0.088,"rl":0.073,"rh":0.103,"pm":0.071,"pl":0.047,"ph":0.090,"nm":0.074,"nl":0.052,"nh":0.091},
{"i":82000,"om":0.081,"ol":0.058,"oh":0.097,"gm":0.084,"gl":0.063,"gh":0.104,"rm":0.072,"rl":0.053,"rh":0.095,"pm":0.078,"pl":0.061,"ph":0.099,"nm":0.070,"nl":0.050,"nh":0.088},
{"i":83000,"om":0.074,"ol":0.056,"oh":0.098,"gm":0.091,"gl":0.076,"gh":0.106,"rm":0.079,"rl":0.055,"rh":0.098,"pm":0.066,"pl":0.044,"ph":0.083,"nm":0.076,"nl":0.060,"nh":0.098},
{"i":84000,"om":0.087,"ol":0.066,"oh":0.107,"gm":0.080,"gl":0.061,"gh":0.103,"rm":0.091,"rl":0.074,"rh":0.112,"pm":0.072,"pl":0.052,"ph":0.090,"nm":0.073,"nl":0.050,"nh":0.089},
{"i":85000,"om":0.092,"ol":0.077,"oh":0.107,"gm":0.086,"gl":0.062,"gh":0.105,"rm":0.075,"rl":0.053,"rh":0.092,"pm":0.061,"pl":0.045,"ph":0.083,"nm":0.078,"nl":0.060,"nh":0.102},
{"i":86000,"om":0.078,"ol":0.059,"oh":0.101,"gm":0.082,"gl":0.065,"gh":0.103,"rm":0.070,"rl":0.050,"rh":0.088,"pm":0.076,"pl":0.053,"ph":0.092,"nm":0.071,"nl":0.050,"nh":0.091},
{"i":87000,"om":0.085,"ol":0.061,"oh":0.104,"gm":0.089,"gl":0.067,"gh":0.106,"rm":0.083,"rl":0.067,"rh":0.105,"pm":0.070,"pl":0.052,"ph":0.094,"nm":0.075,"nl":0.060,"nh":0.090},
{"i":88000,"om":0.080,"ol":0.063,"oh":0.101,"gm":0.078,"gl":0.058,"gh":0.096,"rm":0.077,"rl":0.054,"rh":0.093,"pm":0.067,"pl":0.046,"ph":0.087,"nm":0.069,"nl":0.050,"nh":0.092},
{"i":89000,"om":0.089,"ol":0.067,"oh":0.106,"gm":0.085,"gl":0.069,"gh":0.107,"rm":0.094,"rl":0.076,"rh":0.118,"pm":0.074,"pl":0.059,"ph":0.089,"nm":0.074,"nl":0.050,"nh":0.093},
{"i":90000,"om":0.076,"ol":0.056,"oh":0.094,"gm":0.083,"gl":0.060,"gh":0.099,"rm":0.073,"rl":0.052,"rh":0.093,"pm":0.069,"pl":0.050,"ph":0.092,"nm":0.076,"nl":0.059,"nh":0.097},
{"i":91000,"om":0.091,"ol":0.075,"oh":0.113,"gm":0.090,"gl":0.072,"gh":0.114,"rm":0.081,"rl":0.066,"rh":0.096,"pm":0.077,"pl":0.053,"ph":0.096,"nm":0.072,"nl":0.050,"nh":0.089},
{"i":92000,"om":0.083,"ol":0.060,"oh":0.099,"gm":0.079,"gl":0.058,"gh":0.099,"rm":0.069,"rl":0.050,"rh":0.092,"pm":0.063,"pl":0.046,"ph":0.084,"nm":0.078,"nl":0.058,"nh":0.096},
{"i":93000,"om":0.079,"ol":0.061,"oh":0.103,"gm":0.087,"gl":0.072,"gh":0.102,"rm":0.086,"rl":0.062,"rh":0.105,"pm":0.072,"pl":0.050,"ph":0.089,"nm":0.073,"nl":0.057,"nh":0.095},
{"i":94000,"om":0.094,"ol":0.073,"oh":0.114,"gm":0.081,"gl":0.062,"gh":0.104,"rm":0.078,"rl":0.061,"rh":0.099,"pm":0.068,"pl":0.048,"ph":0.086,"nm":0.070,"nl":0.047,"nh":0.086},
{"i":95000,"om":0.081,"ol":0.066,"oh":0.096,"gm":0.088,"gl":0.064,"gh":0.107,"rm":0.072,"rl":0.050,"rh":0.089,"pm":0.075,"pl":0.059,"ph":0.097,"nm":0.075,"nl":0.057,"nh":0.099},
{"i":96000,"om":0.086,"ol":0.067,"oh":0.109,"gm":0.084,"gl":0.067,"gh":0.105,"rm":0.089,"rl":0.069,"rh":0.107,"pm":0.066,"pl":0.043,"ph":0.082,"nm":0.072,"nl":0.051,"nh":0.092},
{"i":97000,"om":0.075,"ol":0.051,"oh":0.094,"gm":0.080,"gl":0.058,"gh":0.097,"rm":0.076,"rl":0.060,"rh":0.098,"pm":0.071,"pl":0.053,"ph":0.095,"nm":0.077,"nl":0.062,"nh":0.092},
{"i":98000,"om":0.088,"ol":0.071,"oh":0.109,"gm":0.086,"gl":0.066,"gh":0.104,"rm":0.080,"rl":0.057,"rh":0.096,"pm":0.064,"pl":0.043,"ph":0.084,"nm":0.074,"nl":0.055,"nh":0.097},
{"i":99000,"om":0.082,"ol":0.060,"oh":0.099,"gm":0.082,"gl":0.066,"gh":0.104,"rm":0.071,"rl":0.053,"rh":0.095,"pm":0.070,"pl":0.055,"ph":0.085,"nm":0.073,"nl":0.049,"nh":0.092}
]
},
"encoding": {
  "x": {"field": "i", "type": "quantitative", "title": "iteration",
        "scale": {"domain": [-5190, 104235], "nice": false, "zero": false},
        "axis": {"values": [0, 20000, 40000, 60000, 80000, 100000], "format": "d"}}
},
"layer": [
  {"data": {"name": "blue"}, "mark": {"type": "area", "color": "#4C72B0", "opacity": 0.2}, "encoding": {"y": {"field": "l", "type": "quantitative", "title": "regret", "scale": {"domain": [-0.0138, 0.3038], "nice": false, "zero": false}, "axis": {"values": [0, 0.05, 0.1, 0.15, 0.2, 0.25, 0.3], "format": ".2f"}}, "y2": {"field": "h"}}},
  {"data": {"name": "blue"}, "mark": {"type": "line", "color": "#4169AC", "strokeWidth": 1.5}, "encoding": {"y": {"field": "m", "type": "quantitative", "title": "regret", "scale": {"domain": [-0.0138, 0.3038], "nice": false, "zero": false}}}},
  {"data": {"name": "main"}, "mark": {"type": "area", "color": "#DD8452", "opacity": 0.2}, "encoding": {"y": {"field": "ol", "type": "quantitative", "title": "regret", "scale": {"domain": [-0.0138, 0.3038], "nice": false, "zero": false}}, "y2": {"field": "oh"}}},
  {"data": {"name": "main"}, "mark": {"type": "line", "color": "#DD8452", "strokeWidth": 1.5}, "encoding": {"y": {"field": "om", "type": "quantitative", "title": "regret", "scale": {"domain": [-0.0138, 0.3038], "nice": false, "zero": false}}}},
  {"data": {"name": "main"}, "mark": {"type": "area", "color": "#55A868", "opacity": 0.2}, "encoding": {"y": {"field": "gl", "type": "quantitative", "title": "regret", "scale": {"domain": [-0.0138, 0.3038], "nice": false, "zero": false}}, "y2": {"field": "gh"}}},
  {"data": {"name": "main"}, "mark": {"type": "line", "color": "#55A868", "strokeWidth": 1.5}, "encoding": {"y": {"field": "gm", "type": "quantitative", "title": "regret", "scale": {"domain": [-0.0138, 0.3038], "nice": false, "zero": false}}}},
  {"data": {"name": "main"}, "mark": {"type": "area", "color": "#C44E52", "opacity": 0.2}, "encoding": {"y": {"field": "rl", "type": "quantitative", "title": "regret", "scale": {"domain": [-0.0138, 0.3038], "nice": false, "zero": false}}, "y2": {"field": "rh"}}},
  {"data": {"name": "main"}, "mark": {"type": "line", "color": "#C44E52", "strokeWidth": 1.5}, "encoding": {"y": {"field": "rm", "type": "quantitative", "title": "regret", "scale": {"domain": [-0.0138, 0.3038], "nice": false, "zero": false}}}},
  {"data": {"name": "main"}, "mark": {"type": "area", "color": "#8172B3", "opacity": 0.2}, "encoding": {"y": {"field": "pl", "type": "quantitative", "title": "regret", "scale": {"domain": [-0.0138, 0.3038], "nice": false, "zero": false}}, "y2": {"field": "ph"}}},
  {"data": {"name": "main"}, "mark": {"type": "line", "color": "#8172B3", "strokeWidth": 1.5}, "encoding": {"y": {"field": "pm", "type": "quantitative", "title": "regret", "scale": {"domain": [-0.0138, 0.3038], "nice": false, "zero": false}}}},
  {"data": {"name": "main"}, "mark": {"type": "area", "color": "#937860", "opacity": 0.2}, "encoding": {"y": {"field": "nl", "type": "quantitative", "title": "regret", "scale": {"domain": [-0.0138, 0.3038], "nice": false, "zero": false}}, "y2": {"field": "nh"}}},
  {"data": {"name": "main"}, "mark": {"type": "line", "color": "#937860", "strokeWidth": 1.5}, "encoding": {"y": {"field": "nm", "type": "quantitative", "title": "regret", "scale": {"domain": [-0.0138, 0.3038], "nice": false, "zero": false}}}}
]
}
